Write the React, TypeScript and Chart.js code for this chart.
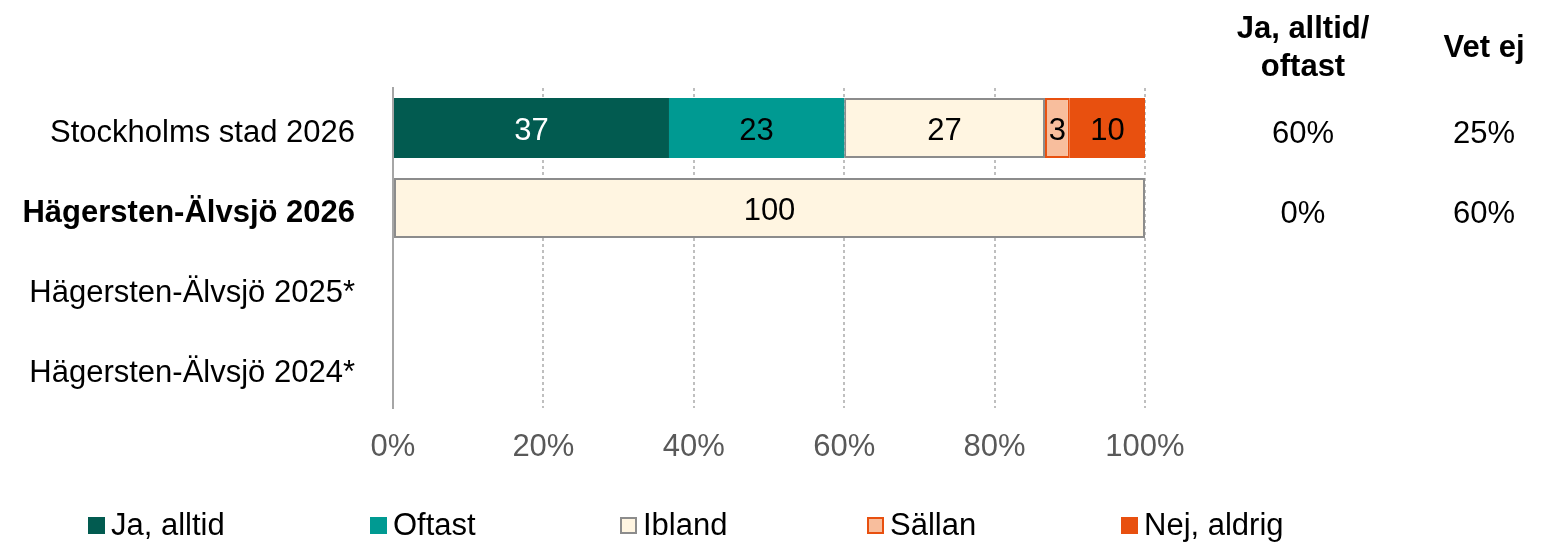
import React, { useEffect, useRef } from "react";
import { Chart, registerables } from "chart.js";
Chart.register(...registerables);

const categories = [
  "Stockholms stad 2026",
  "Hägersten-Älvsjö 2026",
  "Hägersten-Älvsjö 2025*",
  "Hägersten-Älvsjö 2024*",
];
const seriesNames = ["Ja, alltid", "Oftast", "Ibland", "Sällan", "Nej, aldrig"];
const jaAlltid = [36.7, null, null, null];
const oftast = [23.3, null, null, null];
const ibland = [26.7, 100, null, null];
const sallan = [3.3, null, null, null];
const nejAldrig = [10.0, null, null, null];
const xTickValues = [0, 20, 40, 60, 80, 100];
const headerJaOftast = ["Ja, alltid/", "oftast"];
const headerVetEj = ["Vet ej"];
const jaOftastColumn = ["60%", "0%", "", ""];
const vetEjColumn = ["25%", "60%", "", ""];

const FONT = "'Liberation Sans', Arial, sans-serif";
const FS = 31;
const colors = ["#025B50", "#009A92", "#FFF5E1", "#F8BE9D", "#E8500F"];
const borderColors = ["#025B50", "#009A92", "#8C8C8C", "#E8500F", "#E8500F"];
const borderWidths = [0, 0, 2, 2, 0];
const labelColors = ["#FFFFFF", "#000000", "#000000", "#000000", "#000000"];
const legendX = [88, 370, 620, 867, 1121];

const overlayPlugin = {
  id: "overlay",
  afterDatasetsDraw(chart: any) {
    const ctx = chart.ctx;
    ctx.save();
    ctx.font = `${FS}px ${FONT}`;
    ctx.textAlign = "center";
    ctx.textBaseline = "middle";
    chart.data.datasets.forEach((ds: any, di: number) => {
      const meta = chart.getDatasetMeta(di);
      meta.data.forEach((bar: any, i: number) => {
        const v = ds.data[i];
        if (v == null || v === 0) return;
        const { x, y, base } = bar.getProps(["x", "y", "base"], true);
        ctx.fillStyle = labelColors[di];
        ctx.fillText(String(Math.round(v)), (x + base) / 2, y + 3);
      });
    });
    ctx.restore();
  },
  afterDraw(chart: any) {
    const ctx = chart.ctx;
    const yScale = chart.scales.y;
    ctx.save();
    ctx.fillStyle = "#000000";
    ctx.textAlign = "center";
    ctx.textBaseline = "middle";
    // headers
    ctx.font = `bold ${FS}px ${FONT}`;
    headerJaOftast.forEach((t, i) => ctx.fillText(t, 1303, 29 + i * 38));
    headerVetEj.forEach((t) => ctx.fillText(t, 1484, 48));
    // values
    ctx.font = `${FS}px ${FONT}`;
    categories.forEach((_, i) => {
      const y = yScale.getPixelForValue(i) + 6;
      if (jaOftastColumn[i]) ctx.fillText(jaOftastColumn[i], 1303, y);
      if (vetEjColumn[i]) ctx.fillText(vetEjColumn[i], 1484, y);
    });
    // legend
    ctx.textAlign = "left";
    seriesNames.forEach((name, i) => {
      const bx = legendX[i];
      const by = 517;
      ctx.fillStyle = colors[i];
      ctx.fillRect(bx, by, 17, 17);
      if (borderWidths[i] > 0) {
        ctx.strokeStyle = borderColors[i];
        ctx.lineWidth = 2;
        ctx.strokeRect(bx + 1, by + 1, 15, 15);
      }
      ctx.fillStyle = "#000000";
      ctx.fillText(name, bx + 23, 526);
    });
    ctx.restore();
  },
};

export default function App() {
  const canvasRef = useRef<HTMLCanvasElement | null>(null);
  useEffect(() => {
    document.body.style.margin = "0";
    const seriesData = [jaAlltid, oftast, ibland, sallan, nejAldrig];
    const chart = new Chart(canvasRef.current as HTMLCanvasElement, {
      type: "bar",
      data: {
        labels: categories,
        datasets: seriesData.map((d, i) => ({
          label: seriesNames[i],
          data: d,
          backgroundColor: colors[i],
          borderColor: borderColors[i],
          borderWidth: borderWidths[i],
          borderSkipped: false,
          barPercentage: 0.75,
          categoryPercentage: 1,
        })),
      },
      options: {
        indexAxis: "y",
        animation: false,
        responsive: true,
        maintainAspectRatio: false,
        layout: { padding: { top: 88, right: 407, left: 0, bottom: 0 } },
        plugins: { legend: { display: false }, tooltip: { enabled: false } },
        scales: {
          x: {
            stacked: true,
            min: 0,
            max: 100,
            afterBuildTicks: (scale: any) => {
              scale.ticks = xTickValues.map((v) => ({ value: v }));
            },
            afterFit: (scale: any) => {
              scale.height = 137;
            },
            ticks: {
              callback: (v: any) => v + "%",
              color: "#595959",
              font: { family: FONT, size: FS },
              padding: 21,
              maxRotation: 0,
            },
            grid: {
              drawTicks: false,
              lineWidth: 2,
              color: (c: any) => (c.tick && c.tick.value === 0 ? "rgba(0,0,0,0)" : "#BFBFBF"),
            },
            border: { display: false, dash: [3, 3] },
          },
          y: {
            stacked: true,
            afterFit: (scale: any) => {
              scale.width = 393;
            },
            ticks: {
              color: "#000000",
              font: (c: any) => ({ family: FONT, size: FS, weight: c.index === 1 ? "bold" : "normal" }),
              padding: 38,
              labelOffset: 5,
            },
            grid: { display: false, drawTicks: false },
            border: { display: true, color: "#A6A6A6", width: 2 },
          },
        },
      },
      plugins: [overlayPlugin],
    } as any);
    return () => chart.destroy();
  }, []);
  return (
    <div style={{ width: 1552, height: 545, position: "relative" }}>
      <canvas ref={canvasRef} />
    </div>
  );
}
